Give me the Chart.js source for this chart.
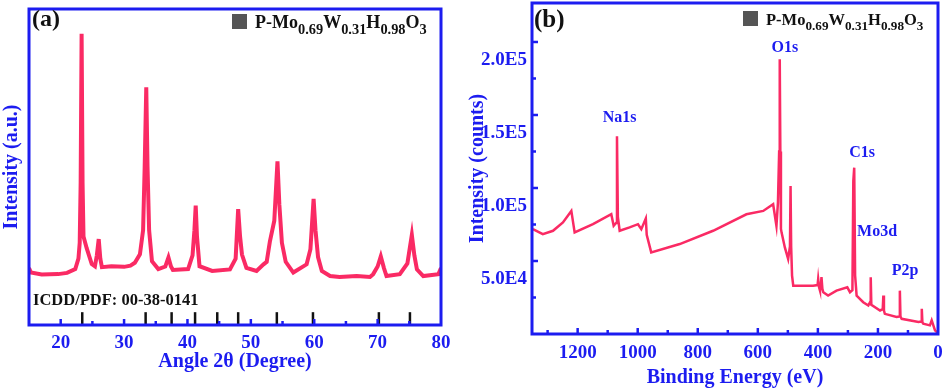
<!DOCTYPE html>
<html>
<head>
<meta charset="utf-8">
<script src="https://cdn.jsdelivr.net/npm/chart.js@4.4.0/dist/chart.umd.min.js"></script>
<style>
  body { margin: 0; background: #fff; width: 946px; height: 392px; overflow: hidden; position: relative;
         font-family: "Liberation Serif", "Times New Roman", serif; }
  .box { position: absolute; top: 0; height: 392px; }
  .txt { position: absolute; font-weight: bold; white-space: nowrap; color: #111; }
  .key sub { font-size: 0.8em; vertical-align: -0.4em; }
  .sq { display: inline-block; width: 15px; height: 15px; background: #555; margin-right: 8px; vertical-align: -1px; }
</style>
</head>
<body>
<div class="box" style="left:0;width:462px"><canvas id="chartA"></canvas></div>
<div class="box" style="left:462px;width:484px"><canvas id="chartB"></canvas></div>

<div class="txt" style="left:32px;top:5px;font-size:24px">(a)</div>
<div class="txt key" style="left:232px;top:12px;font-size:18px"><span class="sq"></span>P-Mo<sub>0.69</sub>W<sub>0.31</sub>H<sub>0.98</sub>O<sub>3</sub></div>
<div class="txt" style="left:33px;top:290px;font-size:16.5px">ICDD/PDF: 00-38-0141</div>

<div class="txt" style="left:534px;top:5px;font-size:25px">(b)</div>
<div class="txt key" style="left:743px;top:10px;font-size:16.5px"><span class="sq"></span>P-Mo<sub>0.69</sub>W<sub>0.31</sub>H<sub>0.98</sub>O<sub>3</sub></div>

<script>
// (a) XRD pattern
const xrdAngle = [15.0, 15.3, 17.0, 19.6, 21.0, 22.3, 22.8, 23.0, 23.15, 23.3, 23.45, 23.6, 24.1, 24.9, 25.4, 25.7, 26.0, 26.25, 26.5,
  28.0, 30.0, 31.0, 31.7, 32.5, 33.0, 33.25, 33.5, 33.7, 33.95, 34.4, 35.4, 36.5, 37.0, 37.4, 37.7, 40.1, 40.8, 41.1, 41.3, 41.5, 41.9,
  43.9, 46.7, 47.6, 48.0, 48.3, 48.6, 49.3, 50.9, 52.0, 52.5, 53.0, 53.7, 54.2, 54.5, 54.9, 55.5, 56.7, 58.8, 59.4, 59.9, 60.2, 60.6,
  61.2, 62.5, 64.0, 66.7, 68.8, 69.3, 70.0, 70.5, 71.0, 71.4, 73.5, 74.7, 75.4, 75.8, 76.2, 77.2, 79.6, 80.0];
const xrdIntensity = [18.0, 16.6, 16.0, 16.1, 16.5, 17.7, 21, 26, 45, 92.2, 45, 28, 24.3, 19.3, 18.6, 22, 27.2, 21, 18.3,
  18.6, 18.4, 18.8, 19.7, 22.4, 30, 50, 75.2, 50, 30, 20.2, 17.7, 18.5, 21.4, 18.5, 17.4, 17.7, 22, 30, 37.8, 28, 18.6,
  17.1, 17.6, 21, 36.7, 28, 22.3, 18.1, 17.1, 19.2, 20, 26.4, 33, 51.8, 38, 26, 20, 16.6, 19.2, 24, 39.9, 30, 21.5,
  17.1, 15.5, 15.2, 15.5, 15.2, 16.1, 18.5, 21.7, 18, 15.5, 16.1, 19.5, 28.5, 22, 17.6, 15.5, 16.1, 18];
// ICDD/PDF 00-38-0141 reference lines
const icddAngle = [23.4, 33.4, 37.5, 41.2, 44.7, 48.0, 54.1, 59.8, 70.2, 75.1];
const icddLevel = 2;
const xLabelsA = [20, 30, 40, 50, 60, 70, 80];
const xMarksA = [20, 25, 30, 35, 40, 45, 50, 55, 60, 65, 70, 75];

// (b) XPS survey
const xpsEnergy = [1349, 1316, 1282, 1249, 1221, 1210, 1149, 1088, 1080, 1072, 1069, 1066, 1060, 1027, 999, 988, 973, 970, 955,
  860, 749, 638, 582, 549, 538, 533, 529, 527, 525, 523, 521, 510, 499, 493, 491, 489, 486, 482, 416, 401, 399, 396, 393,
  390, 388, 385, 382, 366, 338, 302, 293, 285, 282, 279, 276, 271, 249, 232, 226, 224, 222, 193, 184, 182, 180, 177,
  138, 129, 127, 125, 121, 65, 56, 54, 52, 49, 27, 21, 10, 2];
const xpsCounts = [71800, 68400, 70700, 76400, 84300, 69600, 75200, 82000, 74100, 76000, 135400, 80000, 70700, 73000, 75200, 71800, 79100, 68000, 55900,
  61600, 70700, 82000, 84300, 88900, 74100, 90000, 125000, 188200, 125000, 72000, 69600, 59300, 51400, 60000, 101400, 60000, 40000, 33100, 33100, 33500, 37700, 32000, 29700,
  33000, 38900, 31000, 28600, 26300, 29700, 32000, 28600, 30000, 104800, 113900, 40000, 26300, 21800, 19500, 22000, 38900, 20000, 16100, 17000, 26300, 16000, 13800,
  11600, 12000, 29700, 12000, 10400, 8200, 8500, 17300, 8000, 7000, 5900, 9300, 2500, 1000];
const peakNames = ['Na1s', 'O1s', 'C1s', 'Mo3d', 'P2p'];
const peakLabelEnergy = [1060, 510, 253, 203, 110];
const peakLabelCounts = [148000, 196000, 124000, 70000, 43000];
const xLabelsB = [0, 200, 400, 600, 800, 1000, 1200];
const yLabelsB = [50000, 100000, 150000, 200000];
const xMarksB = [100, 200, 300, 400, 500, 600, 700, 800, 900, 1000, 1100, 1200, 1300];
const yMarksB = [25000, 50000, 75000, 100000, 125000, 150000, 175000, 200000];

const BLUE = '#1c1cf0';
const RED = '#fa2a64';
const SERIF = '"Liberation Serif", "Times New Roman", serif';

// blue box round the plot area + inward ticks
const framePlugin = {
  id: 'frame',
  afterDraw(chart, args, opts) {
    const a = chart.chartArea, ctx = chart.ctx;
    ctx.save();
    ctx.strokeStyle = BLUE;
    ctx.lineWidth = 2.5;
    (opts.xMarks || []).forEach(v => {
      const px = chart.scales.x.getPixelForValue(v);
      const len = opts.xMajor.includes(v) ? 6 : 4;
      ctx.beginPath(); ctx.moveTo(px, a.bottom); ctx.lineTo(px, a.bottom - len); ctx.stroke();
    });
    (opts.yMarks || []).forEach(v => {
      const py = chart.scales.y.getPixelForValue(v);
      const len = opts.yMajor.includes(v) ? 6 : 4;
      ctx.beginPath(); ctx.moveTo(a.left, py); ctx.lineTo(a.left + len, py); ctx.stroke();
    });
    ctx.lineWidth = 3;
    ctx.strokeRect(a.left, a.top, a.right - a.left, a.bottom - a.top);
    ctx.restore();
  }
};

// peak names over the XPS spectrum
const peakLabelPlugin = {
  id: 'peakLabels',
  afterDatasetsDraw(chart, args, opts) {
    if (!opts.names) return;
    const ctx = chart.ctx;
    ctx.save();
    ctx.fillStyle = BLUE;
    ctx.font = 'bold 16px ' + SERIF;
    ctx.textAlign = 'center';
    ctx.textBaseline = 'middle';
    opts.names.forEach((n, i) => {
      ctx.fillText(n, chart.scales.x.getPixelForValue(opts.xs[i]), chart.scales.y.getPixelForValue(opts.ys[i]));
    });
    ctx.restore();
  }
};

Chart.register(framePlugin, peakLabelPlugin);

const tickFont = { family: SERIF, size: 19, weight: 'bold' };
const titleFont = { family: SERIF, size: 20, weight: 'bold' };

// fixed axis boxes, no extra room for edge labels
const fitX = h => s => { s.height = h; s.paddingLeft = 0; s.paddingRight = 0; };
const fitY = w => s => { s.width = w; s.paddingTop = 0; s.paddingBottom = 0; };

new Chart(document.getElementById('chartA'), {
  type: 'line',
  data: {
    datasets: [
      {
        label: 'P-Mo0.69W0.31H0.98O3',
        data: xrdAngle.map((x, i) => ({ x: x, y: xrdIntensity[i] })),
        borderColor: RED,
        borderWidth: 4,
        pointRadius: 0,
        tension: 0,
      },
      {
        label: 'ICDD/PDF: 00-38-0141',
        data: icddAngle.map(x => ({ x: x, y: icddLevel })),
        showLine: false,
        pointStyle: 'line',
        rotation: 90,
        pointRadius: 6.5,
        pointBorderWidth: 2.5,
        pointBorderColor: '#111',
        pointBackgroundColor: '#111',
      },
    ],
  },
  options: {
    responsive: true,
    maintainAspectRatio: false,
    animation: false,
    layout: { padding: { left: 0, top: 3, right: 21, bottom: 18 } },
    plugins: {
      legend: { display: false },
      tooltip: { enabled: false },
      frame: { xMarks: xMarksA, xMajor: xLabelsA },
    },
    scales: {
      x: {
        type: 'linear', min: 15, max: 80,
        afterBuildTicks: s => { s.ticks = xLabelsA.map(v => ({ value: v })); },
        afterFit: fitX(49),
        grid: { display: false, drawTicks: false },
        border: { display: false },
        ticks: { color: BLUE, font: tickFont, padding: 7, maxRotation: 0, autoSkip: false, callback: v => String(v) },
        title: { display: true, text: 'Angle 2θ (Degree)', color: BLUE, font: titleFont, padding: 0 },
      },
      y: {
        min: 0, max: 100,
        afterFit: fitY(29),
        grid: { display: false, drawTicks: false },
        border: { display: false },
        ticks: { display: false },
        title: { display: true, text: 'Intensity (a.u.)', color: BLUE, font: titleFont, padding: { top: 0, bottom: 0 } },
      },
    },
  },
});

new Chart(document.getElementById('chartB'), {
  type: 'line',
  data: {
    datasets: [{
      label: 'P-Mo0.69W0.31H0.98O3',
      data: xpsEnergy.map((x, i) => ({ x: x, y: xpsCounts[i] })),
      borderColor: RED,
      borderWidth: 2.5,
      pointRadius: 0,
      tension: 0,
    }],
  },
  options: {
    responsive: true,
    maintainAspectRatio: false,
    animation: false,
    layout: { padding: { left: 0, top: 3, right: 8, bottom: 2 } },
    plugins: {
      legend: { display: false },
      tooltip: { enabled: false },
      frame: { xMarks: xMarksB, xMajor: xLabelsB, yMarks: yMarksB, yMajor: yLabelsB },
      peakLabels: { names: peakNames, xs: peakLabelEnergy, ys: peakLabelCounts },
    },
    scales: {
      x: {
        type: 'linear', min: 0, max: 1352, reverse: true,
        afterBuildTicks: s => { s.ticks = xLabelsB.map(v => ({ value: v })); },
        afterFit: fitX(56),
        grid: { display: false, drawTicks: false },
        border: { display: false },
        ticks: { color: BLUE, font: tickFont, padding: 8, maxRotation: 0, autoSkip: false, callback: v => String(v) },
        title: { display: true, text: 'Binding Energy (eV)', color: BLUE, font: titleFont, padding: 0 },
      },
      y: {
        min: 0, max: 226700,
        afterBuildTicks: s => { s.ticks = yLabelsB.map(v => ({ value: v })); },
        afterFit: fitY(70),
        grid: { display: false, drawTicks: false },
        border: { display: false },
        ticks: {
          color: BLUE, font: tickFont, padding: 5, labelOffset: 18, autoSkip: false,
          callback: v => v.toExponential(1).replace('e+', 'E'),
        },
        title: { display: true, text: 'Intensity (counts)', color: BLUE, font: titleFont, padding: { top: 4, bottom: 0 } },
      },
    },
  },
});
</script>
</body>
</html>
